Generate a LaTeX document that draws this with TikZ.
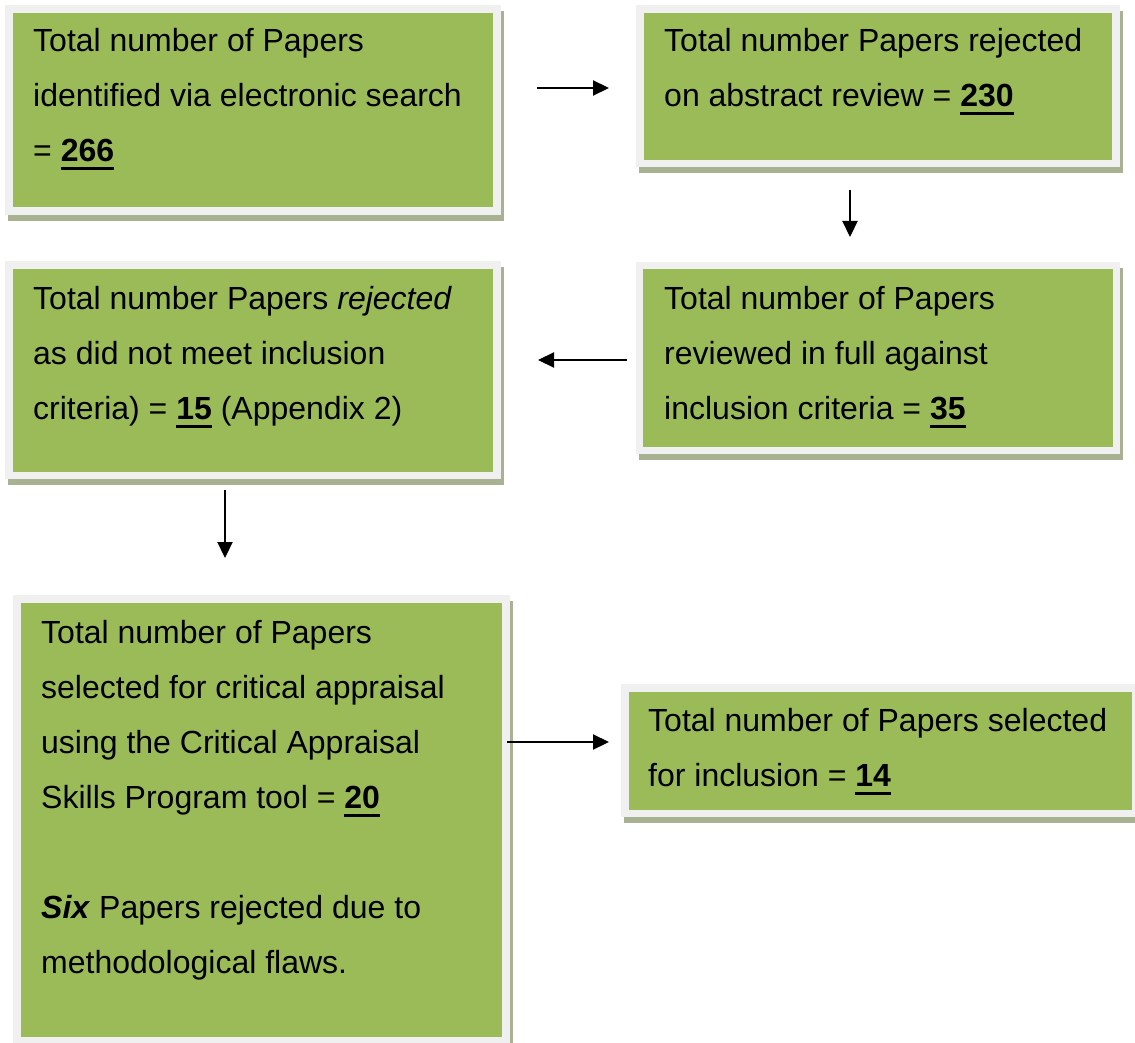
\documentclass[tikz,border=0pt]{standalone}
\usepackage{fontspec}
\setmainfont{Liberation Sans}
\usetikzlibrary{arrows.meta,shadows}
\definecolor{boxgreen}{HTML}{9BBB59}
\definecolor{framegray}{HTML}{F0F0F0}
\definecolor{shadowc}{HTML}{A8B293}
\newcommand{\ulb}[1]{\setbox0=\hbox{\bfseries #1}\rlap{\rule[-8.5pt]{\wd0}{3pt}}\box0\relax}
\tikzset{
  frame/.style={fill=framegray, draw=none, anchor=north west, inner sep=0pt,
    drop shadow={shadow xshift=3pt, shadow yshift=-6pt, fill=shadowc, opacity=1}},
  greenbox/.style={fill=boxgreen, draw=none, anchor=north west, inner sep=0pt},
  txt/.style={anchor=base west, inner sep=0pt, font=\fontsize{32}{55}\selectfont},
  arr/.style={line width=2.2pt, -{Triangle[length=16pt,width=15pt]}}
}
\begin{document}
\begin{tikzpicture}[x=1pt,y=-1pt]
\useasboundingbox (0,0) rectangle (1135,1043);
\clip (0,0) rectangle (1135,1043);
% box 1
\node[frame, minimum width=496pt, minimum height=210pt] (f1) at (5,5) {};
\node[greenbox, minimum width=480pt, minimum height=194pt] (g1) at (13,13) {};
\node[txt] (t1) at (33,52) {\parbox[t]{470pt}{Total number of Papers\\identified via electronic search\\= \ulb{266}}};
% box 2
\node[frame, minimum width=484pt, minimum height=162pt] (f2) at (636,5) {};
\node[greenbox, minimum width=468pt, minimum height=147pt] (g2) at (644,13) {};
\node[txt] (t2) at (664,52) {\parbox[t]{450pt}{Total number Papers rejected\\on abstract review = \ulb{230}}};
% box 3
\node[frame, minimum width=496pt, minimum height=218pt] (f3) at (5,261) {};
\node[greenbox, minimum width=480pt, minimum height=203pt] (g3) at (13,269) {};
\node[txt] (t3) at (33,309) {\parbox[t]{470pt}{Total number Papers \emph{rejected}\\as did not meet inclusion\\criteria) = \ulb{15} (Appendix 2)}};
% box 4
\node[frame, minimum width=484pt, minimum height=192pt] (f4) at (636,262) {};
\node[greenbox, minimum width=470pt, minimum height=178pt] (g4) at (643,269) {};
\node[txt] (t4) at (664,309) {\parbox[t]{450pt}{Total number of Papers\\reviewed in full against\\inclusion criteria = \ulb{35}}};
% box 5
\node[frame, minimum width=497pt, minimum height=460pt] (f5) at (13,595) {};
\node[greenbox, minimum width=481pt, minimum height=434pt] (g5) at (21,603) {};
\node[txt] (t5) at (41,643) {\parbox[t]{460pt}{Total number of Papers\\selected for critical appraisal\\using the Critical Appraisal\\Skills Program tool = \ulb{20}\\\mbox{}\\\textbf{\textit{Six}} Papers rejected due to\\methodological flaws.}};
% box 6
\node[frame, minimum width=520pt, minimum height=133pt] (f6) at (621,684) {};
\node[greenbox, minimum width=503pt, minimum height=118pt] (g6) at (629,692) {};
\node[txt] (t6) at (648,731) {\parbox[t]{480pt}{Total number of Papers selected\\for inclusion = \ulb{14}}};
% connectors
\coordinate (a1s) at (537,88);  \coordinate (a1e) at (609,88);
\coordinate (a2s) at (850,190); \coordinate (a2e) at (850,237);
\coordinate (a3s) at (627,360); \coordinate (a3e) at (538,360);
\coordinate (a4s) at (225,490); \coordinate (a4e) at (225,558);
\coordinate (a5s) at (507,742); \coordinate (a5e) at (609,742);
\draw[arr] (a1s) -- (a1e);
\draw[arr] (a2s) -- (a2e);
\draw[arr] (a3s) -- (a3e);
\draw[arr] (a4s) -- (a4e);
\draw[arr] (a5s) -- (a5e);
\end{tikzpicture}
\end{document}
